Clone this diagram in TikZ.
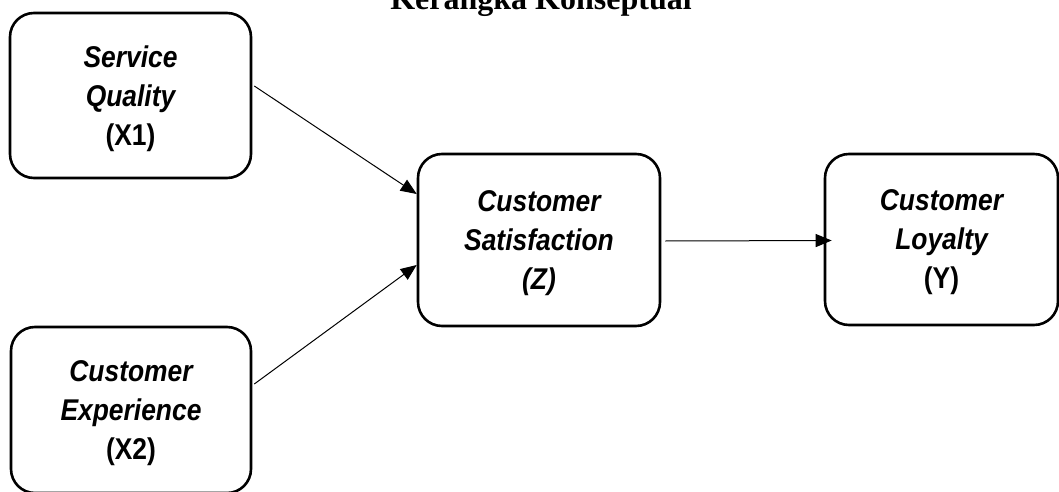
\documentclass[tikz,border=0pt]{standalone}
\usepackage{fontspec}
\setmainfont{Liberation Serif}
\newfontfamily\boxfont[FakeStretch=0.88]{Liberation Sans}
\usetikzlibrary{arrows.meta}

\tikzset{
  varbox/.style={draw=black, line width=2.6pt, rounded corners=24pt,
    fill=white, align=center, inner sep=0pt, text depth=0pt,
    font=\boxfont\fontsize{30}{39}\selectfont\bfseries},
  link/.style={draw=black, line width=1pt,
    -{Triangle[length=16pt,width=13pt]}},
  heading/.style={font=\fontsize{32}{38}\selectfont\bfseries, anchor=base}
}

\begin{document}
\begin{tikzpicture}[x=1pt,y=-1pt]
  \useasboundingbox (0,0) rectangle (1059,492);
  \begin{scope}
    \clip (0,0) rectangle (1059,492);

    % title, partly above the page edge
    \node[heading] (title) at (541,10) {Kerangka Konseptual};

    % variables
    \node[varbox, minimum width=241pt, minimum height=165pt] (sq) at (130.5,95.5)
      {\itshape Service\\ \itshape Quality\\ (X1)};
    \node[varbox, minimum width=240pt, minimum height=166pt] (ce) at (131,410)
      {\itshape Customer\\ \itshape Experience\\ (X2)};
    \node[varbox, minimum width=242pt, minimum height=172pt] (z) at (539,240)
      {\itshape Customer\\ \itshape Satisfaction\\ \itshape (Z)};
    \node[varbox, minimum width=233pt, minimum height=171pt] (y) at (941.5,239.5)
      {\itshape Customer\\ \itshape Loyalty\\ (Y)};

    % paths
    \draw[link] ([xshift=2pt,yshift=9.5pt]sq.east) -- ([yshift=46pt]z.west);
    \draw[link] ([xshift=2pt,yshift=26pt]ce.east) -- ([yshift=-25pt]z.west);
    \draw[link] ([xshift=4pt,yshift=-1pt]z.east) -- ([xshift=8pt,yshift=-1pt]y.west);
  \end{scope}
\end{tikzpicture}
\end{document}
